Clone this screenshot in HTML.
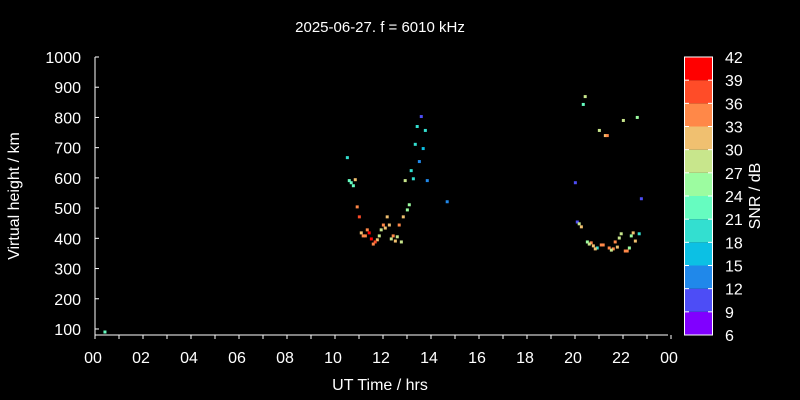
<!DOCTYPE html>
<html><head><meta charset="utf-8"><style>
body{margin:0;background:#000;}
svg{display:block;font-family:"Liberation Sans",sans-serif;}
</style></head><body>
<svg id="chart" width="800" height="400" viewBox="0 0 800 400">
<rect x="0" y="0" width="800" height="400" fill="#000"/>
<text x="380" y="32" fill="#fff" font-size="15" text-anchor="middle">2025-06-27. f = 6010 kHz</text>
<text x="380" y="390" fill="#fff" font-size="16" text-anchor="middle">UT Time / hrs</text>
<text transform="translate(19,196) rotate(-90)" fill="#fff" font-size="16" text-anchor="middle">Virtual height / km</text>
<text transform="translate(760,196) rotate(-90)" fill="#fff" font-size="16" text-anchor="middle">SNR / dB</text>
<g id="axes"></g>
<g id="marks"></g>
<g id="cbar"></g>
</svg>
<script>
const hours=[13.72,13.55,13.89,13.47,13.80,13.64,10.64,13.30,13.39,13.05,13.97,10.72,10.97,10.80,10.89,14.80,13.22,13.14,11.05,11.14,12.30,12.97,12.80,12.14,12.39,12.22,12.05,11.47,11.55,11.22,11.30,11.39,11.97,12.55,12.72,11.64,11.89,12.47,12.64,11.80,12.89,11.72,0.54,
20.55,20.47,22.72,22.14,21.14,21.39,21.47,20.14,22.89,20.22,20.30,20.39,22.05,22.55,22.80,22.47,21.97,22.64,21.80,20.64,20.80,20.72,20.89,21.05,20.97,21.22,21.30,21.55,21.72,21.64,21.89,22.39,22.22,22.30];
const heights=[803,770,757,711,697,654,667,624,597,591,591,591,594,584,574,521,511,494,504,471,471,471,444,444,444,434,428,428,418,418,408,408,408,408,405,398,395,398,391,388,388,381,90,
869,843,800,790,757,740,740,584,531,454,448,438,415,418,415,408,401,391,388,388,385,381,375,368,365,378,378,368,365,361,371,368,358,358];
const snrs=[10,19,20,20,17,13,20,20,20,28,13,22,31,22,22,13,25,25,35,38,31,31,35,35,31,31,28,35,40,31,34,34,28,35,28,40,31,28,31,38,28,34,22,
28,22,25,28,28,32,35,10,10,10,28,31,28,31,19,25,28,31,35,25,35,28,31,19,31,35,35,35,35,28,31,25,35,35];
const yTicks=[100,200,300,400,500,600,700,800,900,1000];
const xTicks=["00","02","04","06","08","10","12","14","16","18","20","22","00"];
const cbTicks=[6,9,12,15,18,21,24,27,30,33,36,39,42];
const cbColors=["#8000ff","#4d4df6","#2088ea","#0cc0e4","#33dfd0","#66fcc0","#9cfca0","#c8e68c","#f0c070","#ff8848","#ff4c28","#ff0000"];
const NS="http://www.w3.org/2000/svg";
const xScale=h=>92+24*h;
const yScale=k=>57+(1000-k)*0.3022;
const cbScale=v=>335-(v-6)*(278/36);
function mk(tag,attrs,parent){const e=document.createElementNS(NS,tag);for(const k in attrs)e.setAttribute(k,attrs[k]);parent.appendChild(e);return e;}
const axes=document.getElementById('axes');
let l=mk('line',{x1:95,y1:57,x2:95,y2:335,stroke:'#fff'},axes);


l=mk('line',{x1:95,y1:335,x2:668,y2:335,stroke:'#fff'},axes);


yTicks.forEach(v=>{const y=yScale(v);
 const t=mk('line',{x1:95,y1:y,x2:99,y2:y,stroke:'#fff'},axes);
 
 
 const tx=mk('text',{x:81,y:y+6,fill:'#fff','font-size':16,'text-anchor':'end'},axes);tx.textContent=v;
 
 
});
for(let h=0;h<=24;h++){const x=xScale(h)+3;
 const t=mk('line',{x1:x,y1:335,x2:x,y2:339,stroke:'#fff'},axes);
 
 
}
xTicks.forEach((s,i)=>{const x=xScale(i*2)+1;
 const tx=mk('text',{x:x,y:363,fill:'#fff','font-size':16,'text-anchor':'middle'},axes);tx.textContent=s;
 
 
});
const marks=document.getElementById('marks');
hours.forEach((h,i)=>{const bin=Math.max(0,Math.min(11,Math.floor((snrs[i]-6)/3)));
 const r=mk('rect',{x:xScale(h)-1.5,y:yScale(heights[i])-1.5,width:3,height:3,fill:cbColors[bin]},marks);
 
 
});
const cb=document.getElementById('cbar');
cbColors.forEach((c,i)=>{const y1=cbScale(cbTicks[i+1]),y0=cbScale(cbTicks[i]);
 const r=mk('rect',{x:685,y:y1,width:27,height:y0-y1,fill:c},cb);
 
 
});
const b=mk('rect',{x:684.5,y:57,width:28,height:278,fill:'none',stroke:'#fff'},cb);


cbTicks.forEach(v=>{const y=cbScale(v);
 const t1=mk('line',{x1:685,y1:y,x2:689,y2:y,stroke:'#fff'},cb);
 
 
 const t2=mk('line',{x1:708,y1:y,x2:712,y2:y,stroke:'#fff'},cb);
 
 
 const tx=mk('text',{x:725,y:y+6,fill:'#fff','font-size':16},cb);tx.textContent=v;
 
 
});
</script>
</body></html>
